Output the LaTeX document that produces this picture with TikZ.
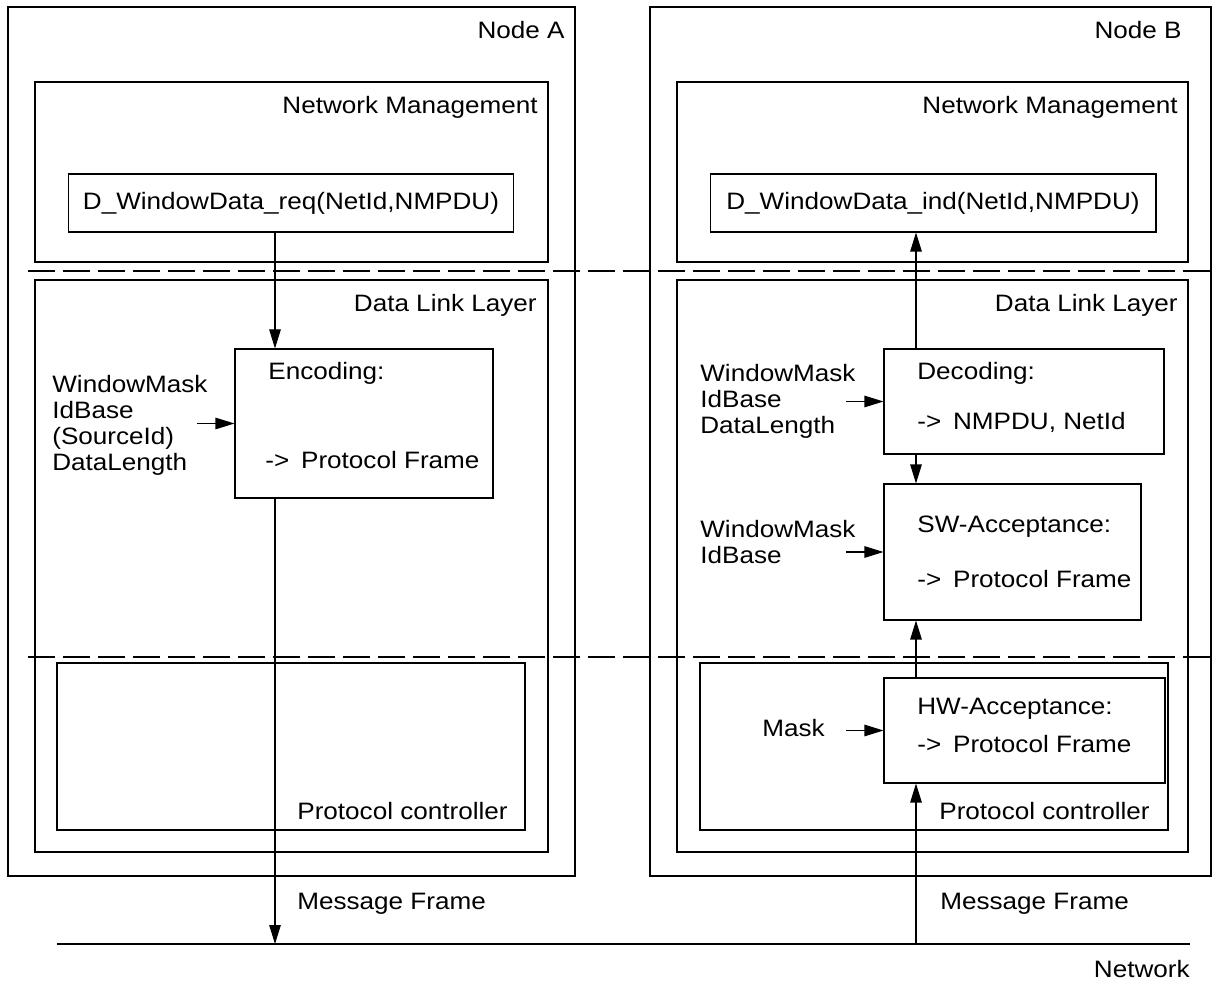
\documentclass[tikz,border=0pt]{standalone}
\usepackage{fontspec}
\setmainfont{Liberation Sans}[FakeStretch=1.1]
\usetikzlibrary{arrows.meta,fit,positioning}

\begin{document}
\begin{tikzpicture}[x=0.02cm, y=-0.02cm, font=\fontsize{13.5}{14.75}\selectfont,
box/.style={draw, line width=0.6pt, inner sep=0pt},
arr/.style={-{Triangle[length=3.8mm,width=2.3mm]}, line width=0.6pt},
layersep/.style={line width=1.3pt, dash pattern=on 0.54cm off 0.16cm},
lbl/.style={inner sep=0pt},
param/.style={align=left, anchor=north west, inner sep=0pt}]
\useasboundingbox (0,0) rectangle (1213,982);

% Node A
\node[box, fit={(8,7) (575,876)}] (nodeA) {};
\node[lbl, anchor=base east] (nodeAlbl) at (565,39) {Node A};
\node[box, fit={(35,82) (548,262)}] (nmA) {};
\node[lbl, anchor=base east] (nmAlbl) at (538,114) {Network Management};
\node[box, minimum width=8.92cm, minimum height=1.16cm] (req) at (291,203) {D\_WindowData\_req(NetId,NMPDU)};
\node[box, fit={(35,280) (548,852)}] (dllA) {};
\node[lbl, anchor=base east] (dllAlbl) at (537,312) {Data Link Layer};
\node[box, fit={(235,349) (493,498)}] (enc) {};
\node[lbl, anchor=base west] (encT) at (268,380) {Encoding:};
\node[lbl, anchor=base west] (encF) at (265,469) {->\enspace Protocol Frame};
\node[param] (encP) at (52,375) {WindowMask\\IdBase\\(SourceId)\\DataLength};
\node[box, fit={(57,663) (525,830)}] (pcA) {};
\node[lbl, anchor=base east] (pcAlbl) at (508,819) {Protocol controller};

% Node B
\node[box, fit={(650,7) (1211,876)}] (nodeB) {};
\node[lbl, anchor=base east] (nodeBlbl) at (1182,39) {Node B};
\node[box, fit={(677,82) (1188,262)}] (nmB) {};
\node[lbl, anchor=base east] (nmBlbl) at (1178,114) {Network Management};
\node[box, minimum width=8.92cm, minimum height=1.16cm] (ind) at (933,203) {D\_WindowData\_ind(NetId,NMPDU)};
\node[box, fit={(677,280) (1188,852)}] (dllB) {};
\node[lbl, anchor=base east] (dllBlbl) at (1178,312) {Data Link Layer};
\node[box, fit={(884,349) (1164,454)}] (dec) {};
\node[lbl, anchor=base west] (decT) at (917,380) {Decoding:};
\node[lbl, anchor=base west] (decF) at (917,430) {->\enspace NMPDU, NetId};
\node[param] (decP) at (700,364) {WindowMask\\IdBase\\DataLength};
\node[box, fit={(884,484) (1141,620)}] (sw) {};
\node[lbl, anchor=base west] (swT) at (917,533) {SW-Acceptance:};
\node[lbl, anchor=base west] (swF) at (917,587) {->\enspace Protocol Frame};
\node[param] (swP) at (700,520) {WindowMask\\IdBase};
\node[box, fit={(700,663) (1168,830)}] (pcB) {};
\node[lbl, anchor=base east] (pcBlbl) at (1150,819) {Protocol controller};
\node[box, fit={(884,678) (1165,783)}] (hw) {};
\node[lbl, anchor=base west] (hwT) at (917,714) {HW-Acceptance:};
\node[lbl, anchor=base west] (hwF) at (917,752) {->\enspace Protocol Frame};
\node[lbl, anchor=base west] (mask) at (762,736) {Mask};

% layer borders
\draw[layersep] (28,271) -- (1213,271);
\draw[layersep] (28,657) -- (1213,657);

% network
\coordinate (netL) at (57,944);
\coordinate (netR) at (1190,944);
\draw[line width=1.7pt] (netL) -- (netR);
\node[lbl, anchor=base east] (net) at (1190,977) {Network};
\node[lbl, anchor=base west] (msgA) at (297,909) {Message Frame};
\node[lbl, anchor=base west] (msgB) at (940,909) {Message Frame};

% inputs
\draw[arr] ([xshift=-0.74cm]enc.west) -- (enc.west);
\draw[arr] ([xshift=-0.74cm]dec.west) -- (dec.west);
\draw[arr] ([xshift=-0.74cm]sw.west) -- (sw.west);
\draw[arr] ([xshift=-0.74cm]hw.west) -- (hw.west);

% send path
\coordinate (colA) at (275,944);
\draw[arr] (req.south -| colA) -- (enc.north -| colA);
\draw[arr] (enc.south -| colA) -- (colA);

% receive path
\coordinate (colB) at (916,944);
\draw[arr] (colB) -- (hw.south -| colB);
\draw[arr] (hw.north -| colB) -- (sw.south -| colB);
\draw[arr] (dec.south -| colB) -- (sw.north -| colB);
\draw[arr] (dec.north -| colB) -- (ind.south -| colB);
\end{tikzpicture}
\end{document}
